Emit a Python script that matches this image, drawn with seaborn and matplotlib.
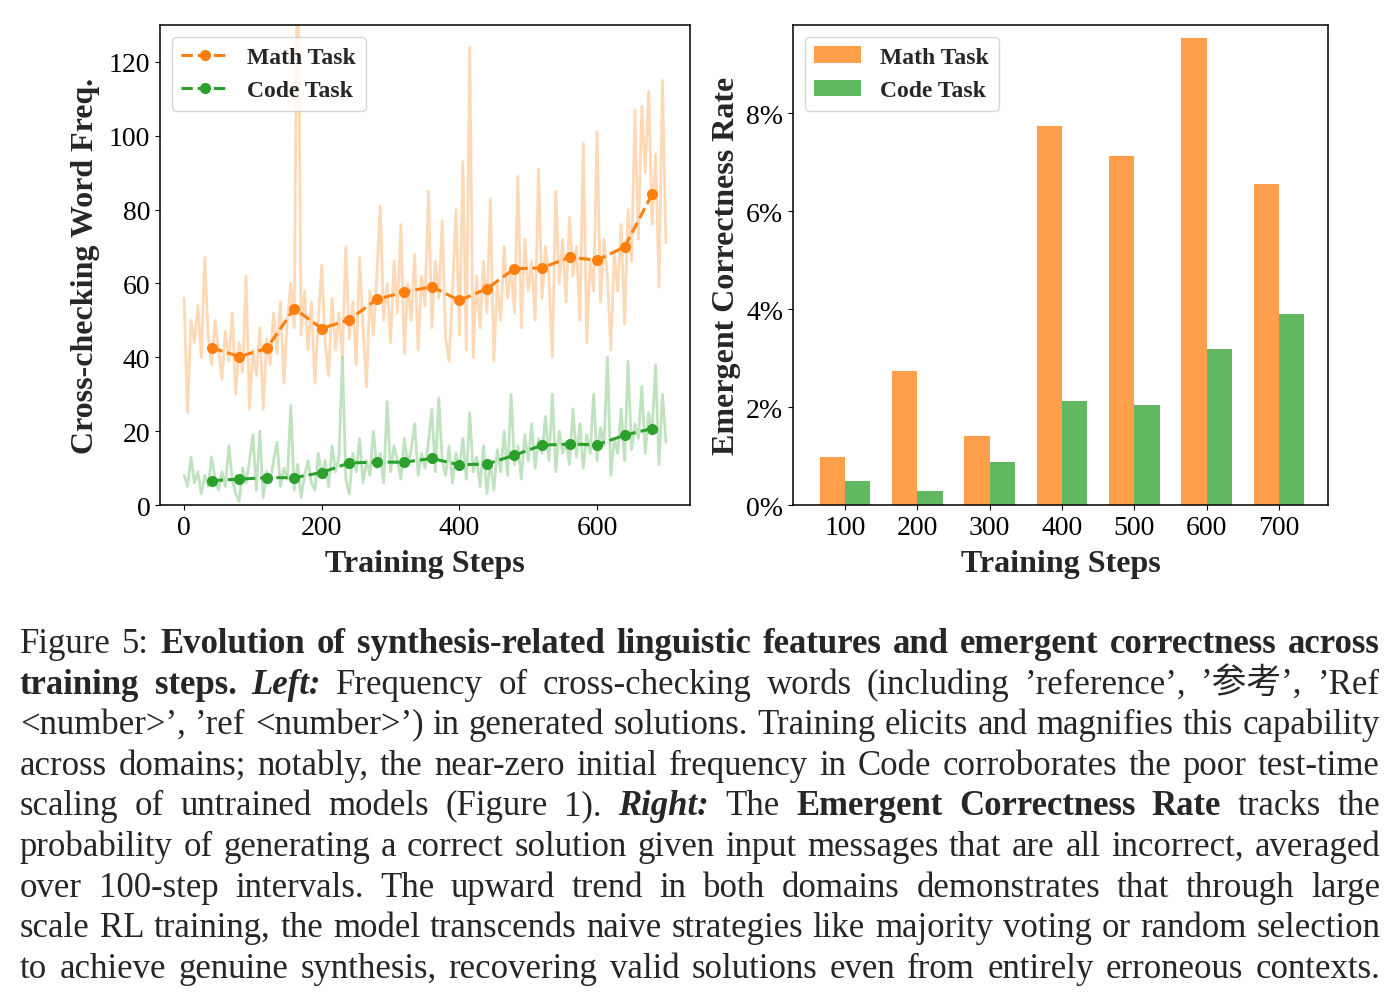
import numpy as np
import pandas as pd
import seaborn as sns
import matplotlib
matplotlib.use("Agg")
import matplotlib.pyplot as plt
from matplotlib.ticker import FuncFormatter

# ---- left panel: raw per-step frequency (read every 5 steps) ----
raw_steps = np.arange(0, 701, 5)
math_raw = [56, 25, 50, 44, 54, 40, 67, 46, 38, 50,
            42, 34, 47, 39, 52, 30, 44, 36, 62, 26,
            42, 35, 48, 26, 45, 38, 52, 41, 55, 33,
            50, 60, 48, 165, 46, 58, 42, 55, 33, 50,
            65, 44, 35, 56, 42, 52, 40, 70, 45, 55,
            38, 67, 48, 32, 58, 46, 62, 81, 50, 60,
            44, 66, 52, 76, 41, 60, 50, 68, 42, 62,
            54, 85, 48, 66, 56, 77, 45, 39, 58, 80,
            46, 93, 42, 124, 40, 62, 48, 66, 52, 83,
            39, 60, 50, 70, 56, 64, 52, 89, 48, 72,
            58, 66, 50, 91, 56, 70, 62, 40, 85, 60,
            72, 55, 78, 62, 70, 50, 98, 44, 66, 58,
            101, 55, 72, 62, 42, 68, 58, 76, 49, 80,
            66, 107, 72, 108, 90, 112, 76, 95, 59, 115,
            71]
code_raw = [8, 5, 13, 6, 9, 3, 8, 5, 13, 7,
            4, 9, 5, 16, 7, 3, 1, 10, 6, 12,
            19, 4, 20, 2, 9, 6, 12, 17, 5, 10,
            7, 27, 4, 11, 2, 8, 12, 6, 4, 14,
            8, 12, 5, 16, 9, 13, 40, 7, 3, 14,
            9, 18, 6, 12, 8, 20, 10, 14, 6, 28,
            9, 16, 12, 7, 18, 11, 15, 22, 8, 14,
            10, 17, 26, 9, 29, 12, 8, 16, 6, 14,
            10, 18, 7, 25, 9, 13, 5, 16, 3, 12,
            4, 15, 9, 20, 8, 30, 11, 16, 7, 19,
            12, 22, 10, 18, 14, 24, 12, 30, 9, 20,
            14, 17, 11, 26, 13, 22, 10, 19, 14, 30,
            12, 21, 16, 40, 8, 18, 14, 26, 12, 39,
            15, 22, 18, 32, 14, 25, 20, 38, 11, 30,
            17]

# smoothed points (every 40 steps)
avg_steps = [40, 80, 120, 160, 200, 240, 280, 320, 360, 400, 440, 480, 520, 560, 600, 640, 680]
math_avg = [42.6, 40.2, 42.4, 53.2, 47.8, 50.2, 55.7, 57.7, 59.1, 55.4, 58.6, 64.0, 64.2, 67.1, 66.3, 69.9, 84.2]
code_avg = [6.6, 7.0, 7.4, 7.4, 8.8, 11.4, 11.6, 11.6, 12.6, 10.9, 11.1, 13.5, 16.2, 16.5, 16.3, 18.9, 20.7]

# ---- right panel: emergent correctness rate (%) ----
bar_steps = ["100", "200", "300", "400", "500", "600", "700"]
math_rate = [0.98, 2.73, 1.40, 7.73, 7.13, 9.53, 6.56]
code_rate = [0.50, 0.28, 0.87, 2.13, 2.05, 3.19, 3.89]

orange = "#ff7f0e"
green = "#2ca02c"

sns.set_style("ticks")
plt.rcParams["font.family"] = ["Liberation Serif", "Noto Sans CJK SC"]
plt.rcParams["axes.edgecolor"] = "black"
plt.rcParams["axes.linewidth"] = 1.1
plt.rcParams["xtick.color"] = "black"
plt.rcParams["ytick.color"] = "black"

fig = plt.figure(figsize=(13.97, 10.04), dpi=100)
W, H = 1397, 1004
ax1 = fig.add_axes([160 / W, 1 - 506 / H, 530 / W, 480 / H])
ax2 = fig.add_axes([793 / W, 1 - 506 / H, 535 / W, 480 / H])

# left
sns.lineplot(x=raw_steps, y=math_raw, ax=ax1, color=orange, alpha=0.3, lw=2.0, legend=False)
sns.lineplot(x=raw_steps, y=code_raw, ax=ax1, color=green, alpha=0.3, lw=2.0, legend=False)
sns.lineplot(x=avg_steps, y=math_avg, ax=ax1, color=orange, lw=2.2, linestyle="--",
             marker="o", markersize=8, markeredgewidth=0, label="Math Task")
sns.lineplot(x=avg_steps, y=code_avg, ax=ax1, color=green, lw=2.2, linestyle="--",
             marker="o", markersize=8, markeredgewidth=0, label="Code Task")
ax1.set_ylim(0, 130)
ax1.set_xticks([0, 200, 400, 600])
ax1.set_yticks([0, 20, 40, 60, 80, 100, 120])
ax1.tick_params(labelsize=20)
ax1.set_xlabel("Training Steps", fontsize=23, fontweight="bold", labelpad=7)
ax1.set_ylabel("Cross-checking Word Freq.", fontsize=23, fontweight="bold", labelpad=6)
ax1.legend(loc="upper left", prop={"size": 17, "weight": "bold"}, framealpha=0.8)

# right
bars = pd.DataFrame({
    "step": bar_steps * 2,
    "rate": math_rate + code_rate,
    "task": ["Math Task"] * len(bar_steps) + ["Code Task"] * len(bar_steps),
})
sns.barplot(data=bars, x="step", y="rate", hue="task", order=bar_steps,
            palette=[orange, green], alpha=0.75, saturation=1, width=0.7,
            linewidth=0, ax=ax2)
ax2.set_xlim(-0.72, 6.68)
ax2.set_ylim(0, 9.8)
ax2.set_yticks([0, 2, 4, 6, 8])
ax2.yaxis.set_major_formatter(FuncFormatter(lambda v, p: f"{v:.0f}%"))
ax2.tick_params(labelsize=20)
ax2.set_xlabel("Training Steps", fontsize=23, fontweight="bold", labelpad=7)
ax2.set_ylabel("Emergent Correctness Rate", fontsize=23, fontweight="bold")
ax2.legend(title=None, loc="upper left", prop={"size": 17, "weight": "bold"}, framealpha=0.8)

# ---- caption, justified ----
cap_lines = [
    [("r", "Figure 5:"), ("b", "Evolution of synthesis-related linguistic features and emergent correctness across")],
    [("b", "training steps."), ("bi", "Left:"), ("r", "Frequency of cross-checking words (including \u2019reference\u2019, \u2019参考\u2019, \u2019Ref")],
    [("r", "<number>\u2019, \u2019ref <number>\u2019) in generated solutions. Training elicits and magnifies this capability")],
    [("r", "across domains; notably, the near-zero initial frequency in Code corroborates the poor test-time")],
    [("r", "scaling of untrained models (Figure 1)."), ("bi", "Right:"), ("r", "The"), ("b", "Emergent Correctness Rate"), ("r", "tracks the")],
    [("r", "probability of generating a correct solution given input messages that are all incorrect, averaged")],
    [("r", "over 100-step intervals. The upward trend in both domains demonstrates that through large")],
    [("r", "scale RL training, the model transcends naive strategies like majority voting or random selection")],
    [("r", "to achieve genuine synthesis, recovering valid solutions even from entirely erroneous contexts.")],
]
cap_size = 25
renderer = fig.canvas.get_renderer()
x0, x1 = 20, 1380
for i, segs in enumerate(cap_lines):
    base = 653 + i * 40.6
    words = [(st, w) for st, txt in segs for w in txt.split(" ") if w]
    objs = []
    for st, w in words:
        t = fig.text(0, 1 - base / H, w, fontsize=cap_size, va="baseline", ha="left",
                     fontweight="bold" if "b" in st else "normal",
                     fontstyle="italic" if "i" in st else "normal")
        objs.append((t, t.get_window_extent(renderer).width))
    total = sum(wd for _, wd in objs)
    gap = (x1 - x0 - total) / (len(objs) - 1)
    x = x0
    for t, wd in objs:
        t.set_x(x / W)
        x += wd + gap

fig.savefig("out.png", dpi=100)
